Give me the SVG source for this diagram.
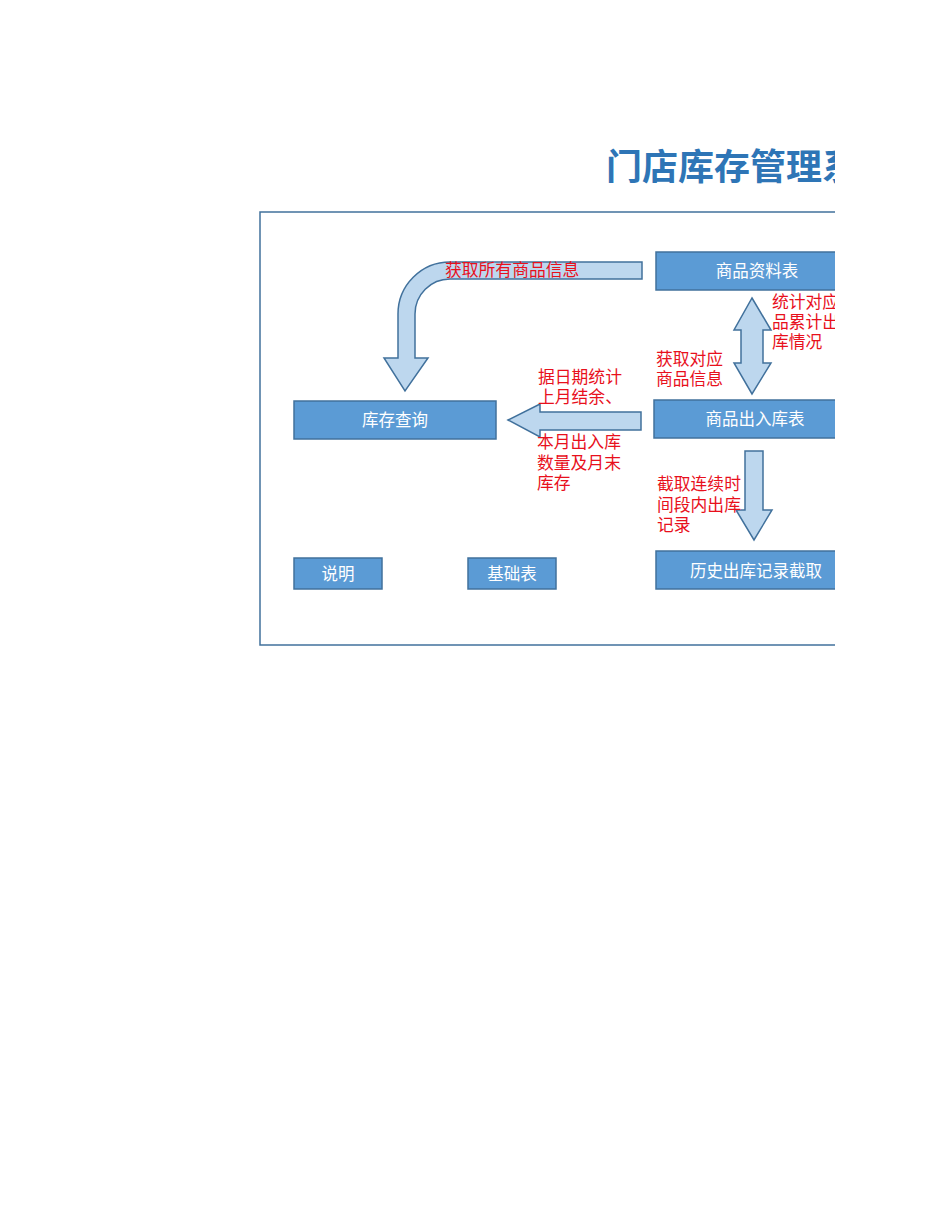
<svg xmlns="http://www.w3.org/2000/svg" width="950" height="1230" viewBox="0 0 950 1230">
<style>
.box{fill:#5b9bd5;stroke:#41719c;stroke-width:1.5}
.bt{fill:#fff;font-family:"Noto Sans CJK SC",sans-serif;font-size:16.5px;text-anchor:middle}
.lb{fill:#e8101c;font-family:"Noto Sans CJK SC",sans-serif;font-size:16.8px}
.ar{fill:#bdd7ee;stroke:#41719c;stroke-width:1.5}
</style>
<defs><clipPath id="c"><rect x="0" y="0" width="835" height="1230"/></clipPath></defs>
<g clip-path="url(#c)">
<text x="606" y="180" fill="#2e75b6" font-family="'Noto Sans CJK SC',sans-serif" font-weight="bold" font-size="36">门店库存管理系统</text>
<rect x="260" y="212" width="620" height="433" fill="none" stroke="#41719c" stroke-width="1.5"/>
<g id="connectors">
<path class="ar" d="M642,262 L450,262 A52,52 0 0 0 398,314 L398,358 L384,358 L405,391 L428,358 L415,358 L415,314 A35,35 0 0 1 450,279 L642,279 Z"/>
<path class="ar" d="M752,298 L771,330 L763,330 L763,363 L771,363 L752,394 L734,363 L741,363 L741,330 L734,330 Z"/>
<path class="ar" d="M508,420 L540,404 L540,412 L641,412 L641,430 L540,430 L540,437 Z"/>
<path class="ar" d="M745,451 L763,451 L763,510 L772,510 L754,540 L736,510 L745,510 Z"/>
</g>
<g id="n1"><rect class="box" x="656" y="252" width="200" height="38"/><text class="bt" x="757" y="277">商品资料表</text></g>
<g id="n2"><rect class="box" x="654" y="400" width="200" height="38"/><text class="bt" x="755" y="425">商品出入库表</text></g>
<g id="n3"><rect class="box" x="294" y="401" width="202" height="38"/><text class="bt" x="395" y="426">库存查询</text></g>
<g id="n4"><rect class="box" x="294" y="558" width="88" height="31"/><text class="bt" x="338" y="580">说明</text></g>
<g id="n5"><rect class="box" x="468" y="558" width="88" height="31"/><text class="bt" x="512" y="580">基础表</text></g>
<g id="n6"><rect class="box" x="656" y="551" width="200" height="38"/><text class="bt" x="756" y="577">历史出库记录截取</text></g>
<g id="labels">
<text class="lb" x="445" y="276">获取所有商品信息</text>
<text class="lb" x="772" y="308">统计对应商</text>
<text class="lb" x="772" y="328">品累计出</text>
<text class="lb" x="772" y="348">库情况</text>
<text class="lb" x="656" y="365">获取对应</text>
<text class="lb" x="656" y="385">商品信息</text>
<text class="lb" x="538" y="383">据日期统计</text>
<text class="lb" x="538" y="403">上月结余、</text>
<text class="lb" x="537" y="448">本月出入库</text>
<text class="lb" x="537" y="469">数量及月末</text>
<text class="lb" x="537" y="489">库存</text>
<text class="lb" x="657" y="490">截取连续时</text>
<text class="lb" x="657" y="511">间段内出库</text>
<text class="lb" x="657" y="531">记录</text>
</g>
</g>
</svg>
